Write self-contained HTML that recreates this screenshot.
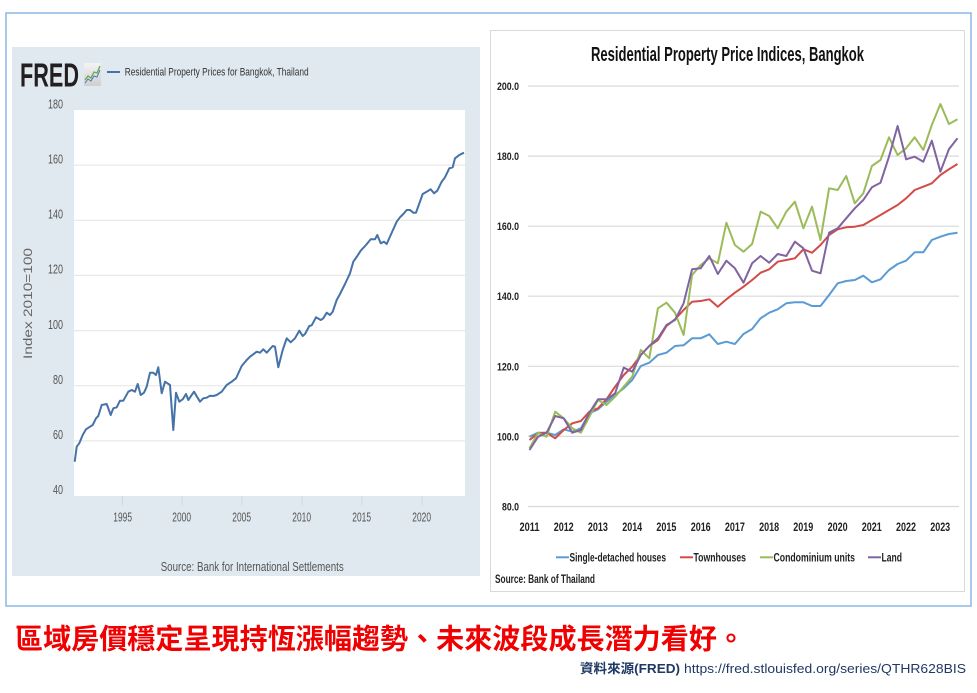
<!DOCTYPE html>
<html>
<head>
<meta charset="utf-8">
<style>
html,body{margin:0;padding:0;background:#fff;width:977px;height:693px;overflow:hidden}
svg{display:block}
</style>
</head>
<body>
<svg width="977" height="693" viewBox="0 0 977 693" xmlns="http://www.w3.org/2000/svg">
<rect x="0" y="0" width="977" height="693" fill="#fff"/>
<!-- outer border -->
<rect x="6" y="13" width="965" height="593" fill="none" stroke="#8ab8e6" stroke-width="1.5"/>

<!-- ============ LEFT FRED PANEL ============ -->
<rect x="12" y="47" width="468" height="529" fill="#e1e9f0"/>
<rect x="74" y="110" width="391" height="386" fill="#fff"/>
<g stroke="#e8e8e8" stroke-width="1.2">
<line x1="74" y1="165.1" x2="465" y2="165.1"/>
<line x1="74" y1="220.3" x2="465" y2="220.3"/>
<line x1="74" y1="275.4" x2="465" y2="275.4"/>
<line x1="74" y1="330.6" x2="465" y2="330.6"/>
<line x1="74" y1="385.7" x2="465" y2="385.7"/>
<line x1="74" y1="440.9" x2="465" y2="440.9"/>
</g>
<g stroke="#ccd6eb" stroke-width="1">
<line x1="122.5" y1="496" x2="122.5" y2="505"/>
<line x1="182" y1="496" x2="182" y2="505"/>
<line x1="242" y1="496" x2="242" y2="505"/>
<line x1="302" y1="496" x2="302" y2="505"/>
<line x1="362" y1="496" x2="362" y2="505"/>
<line x1="422" y1="496" x2="422" y2="505"/>
</g>
<!-- FRED logo -->
<text x="20" y="86.5" font-family="Liberation Sans, sans-serif" font-weight="bold" font-size="33" fill="#231f20" textLength="59" lengthAdjust="spacingAndGlyphs">FRED</text>
<defs><linearGradient id="ig" x1="0" y1="0" x2="0" y2="1"><stop offset="0" stop-color="#f4f4f4"/><stop offset="1" stop-color="#cfcfcf"/></linearGradient></defs>
<rect x="84" y="63" width="17" height="23" fill="url(#ig)"/>
<polyline points="85,80 88,76 91,78 94,72 97,73 100,66" fill="none" stroke="#6aa84f" stroke-width="1.3"/>
<polyline points="85,83 88,79 91,81 94,76 97,77 100,70" fill="none" stroke="#4a7ab5" stroke-width="1"/>
<line x1="107" y1="72" x2="120" y2="72" stroke="#4572a7" stroke-width="2"/>
<text x="124.7" y="75.5" font-family="Liberation Sans, sans-serif" font-size="11" fill="#333" textLength="184" lengthAdjust="spacingAndGlyphs">Residential Property Prices for Bangkok, Thailand</text>
<!-- y labels -->
<g font-family="Liberation Sans, sans-serif" font-size="12.5" fill="#555">
<text x="48" y="108.3" textLength="15" lengthAdjust="spacingAndGlyphs">180</text>
<text x="48" y="163.3" textLength="15" lengthAdjust="spacingAndGlyphs">160</text>
<text x="48" y="218.5" textLength="15" lengthAdjust="spacingAndGlyphs">140</text>
<text x="48" y="273.6" textLength="15" lengthAdjust="spacingAndGlyphs">120</text>
<text x="48" y="328.8" textLength="15" lengthAdjust="spacingAndGlyphs">100</text>
<text x="53" y="383.9" textLength="10" lengthAdjust="spacingAndGlyphs">80</text>
<text x="53" y="439.1" textLength="10" lengthAdjust="spacingAndGlyphs">60</text>
<text x="53" y="494.2" textLength="10" lengthAdjust="spacingAndGlyphs">40</text>
</g>
<text transform="translate(32,303.5) rotate(-90)" text-anchor="middle" font-family="Liberation Sans, sans-serif" font-size="11.5" fill="#666" textLength="111" lengthAdjust="spacingAndGlyphs">Index 2010=100</text>
<!-- x labels -->
<g font-family="Liberation Sans, sans-serif" font-size="12.5" fill="#555">
<text x="113.3" y="521.5" textLength="18.7" lengthAdjust="spacingAndGlyphs">1995</text>
<text x="172.3" y="521.5" textLength="18.7" lengthAdjust="spacingAndGlyphs">2000</text>
<text x="232.3" y="521.5" textLength="18.7" lengthAdjust="spacingAndGlyphs">2005</text>
<text x="292.3" y="521.5" textLength="18.7" lengthAdjust="spacingAndGlyphs">2010</text>
<text x="352.3" y="521.5" textLength="18.7" lengthAdjust="spacingAndGlyphs">2015</text>
<text x="412.3" y="521.5" textLength="18.7" lengthAdjust="spacingAndGlyphs">2020</text>
</g>
<text x="160.7" y="571" font-family="Liberation Sans, sans-serif" font-size="13" fill="#555" textLength="183" lengthAdjust="spacingAndGlyphs">Source: Bank for International Settlements</text>
<!-- FRED series -->
<polyline fill="none" stroke="#4572a7" stroke-width="2" stroke-linejoin="round" points="74.7,461.7 76.7,446.7 79.3,443.3 82.7,435 86,429.3 90,426.7 92.7,425 96,418.3 98.3,416 101.7,405 106.7,404 110.7,415 113.3,408.3 116.7,407.3 120,400.7 123.3,400.7 128.3,391.7 131.7,390 135,391.7 137.7,384 140.7,395 144,392.7 146.7,386.7 150,372.7 153.3,372.7 156,375 158.3,367.3 161.7,393.3 165,381.7 170,385 173.3,430 176,392.7 179.3,401.7 182.7,399.3 186,394 188.3,400 194,391.7 200,401.7 203.3,398.3 206.7,397.7 210,395.7 213.3,396 216.7,395 221.7,391.7 226.7,385 231.7,381.7 236,378.3 241.7,366 246.7,360 250,356.7 256.7,351.7 260,352.7 263.3,349.3 266.7,352.7 272.7,346 275,346.7 278.3,367.3 282.7,350 286.7,338.3 290.7,342.3 295,338.3 299.3,330.7 302.7,336 305,334 309.3,326 311.7,325.3 316,317.3 320.7,320 323.3,318.3 326.7,312.7 330,315 332.7,311.7 336.7,300 340,294 345,284 350,273.3 353.3,261.7 357.3,256 360.7,250.7 366,245 370.7,239.3 375,239.3 377.3,235 380.7,243.3 384,241.7 386.7,244 390.7,235 396.7,221.7 400,217.3 403.3,214 406.7,210 410,210 413.3,212.7 416,212.7 422.7,194 426.7,191.7 430.7,189.3 434,193.3 437.3,190.7 441.7,181.7 445,177.3 449.3,168.3 452.7,167.3 455,158.3 459.3,155 464,152.7"/>

<!-- ============ RIGHT PANEL ============ -->
<rect x="490.5" y="30.5" width="474" height="561" fill="#fff" stroke="#d9d9d9" stroke-width="1"/>
<text x="591" y="61" font-family="Liberation Sans, sans-serif" font-weight="bold" font-size="20" fill="#111" textLength="273" lengthAdjust="spacingAndGlyphs">Residential Property Price Indices, Bangkok</text>
<g stroke="#d9d9d9" stroke-width="1.2">
<line x1="528" y1="86" x2="959" y2="86"/>
<line x1="528" y1="156.1" x2="959" y2="156.1"/>
<line x1="528" y1="226.2" x2="959" y2="226.2"/>
<line x1="528" y1="296.2" x2="959" y2="296.2"/>
<line x1="528" y1="366.3" x2="959" y2="366.3"/>
<line x1="528" y1="436.4" x2="959" y2="436.4"/>
<line x1="528" y1="506.5" x2="959" y2="506.5"/>
</g>
<g font-family="Liberation Sans, sans-serif" font-weight="bold" font-size="11" fill="#222">
<text x="497" y="90" textLength="22" lengthAdjust="spacingAndGlyphs">200.0</text>
<text x="497" y="160.1" textLength="22" lengthAdjust="spacingAndGlyphs">180.0</text>
<text x="497" y="230.2" textLength="22" lengthAdjust="spacingAndGlyphs">160.0</text>
<text x="497" y="300.2" textLength="22" lengthAdjust="spacingAndGlyphs">140.0</text>
<text x="497" y="370.3" textLength="22" lengthAdjust="spacingAndGlyphs">120.0</text>
<text x="497" y="440.4" textLength="22" lengthAdjust="spacingAndGlyphs">100.0</text>
<text x="502" y="510.5" textLength="17" lengthAdjust="spacingAndGlyphs">80.0</text>
</g>
<g font-family="Liberation Sans, sans-serif" font-weight="bold" font-size="12" fill="#222">
<text x="519.5" y="531" textLength="20" lengthAdjust="spacingAndGlyphs">2011</text>
<text x="553.7" y="531" textLength="20" lengthAdjust="spacingAndGlyphs">2012</text>
<text x="587.9" y="531" textLength="20" lengthAdjust="spacingAndGlyphs">2013</text>
<text x="622.2" y="531" textLength="20" lengthAdjust="spacingAndGlyphs">2014</text>
<text x="656.4" y="531" textLength="20" lengthAdjust="spacingAndGlyphs">2015</text>
<text x="690.7" y="531" textLength="20" lengthAdjust="spacingAndGlyphs">2016</text>
<text x="724.9" y="531" textLength="20" lengthAdjust="spacingAndGlyphs">2017</text>
<text x="759.1" y="531" textLength="20" lengthAdjust="spacingAndGlyphs">2018</text>
<text x="793.3" y="531" textLength="20" lengthAdjust="spacingAndGlyphs">2019</text>
<text x="827.6" y="531" textLength="20" lengthAdjust="spacingAndGlyphs">2020</text>
<text x="861.8" y="531" textLength="20" lengthAdjust="spacingAndGlyphs">2021</text>
<text x="896" y="531" textLength="20" lengthAdjust="spacingAndGlyphs">2022</text>
<text x="930.2" y="531" textLength="20" lengthAdjust="spacingAndGlyphs">2023</text>
</g>
<g fill="none" stroke-width="2" stroke-linejoin="round">
<polyline stroke="#5b9bd5" points="529.5,436.7 538.1,432.7 546.6,432.7 555.2,435 563.7,429.3 572.3,431.7 580.9,428.3 589.4,413.3 598,409.3 606.5,401.7 615.1,395 623.7,388.3 632.2,380 640.8,366 649.3,362.7 657.9,355 666.5,352.7 675,346 683.6,345.3 692.1,338.3 700.7,338.3 709.3,334.3 717.8,344 726.4,341.7 734.9,344 743.5,334 752.1,329 760.6,318.3 769.2,312.7 777.7,309.3 786.3,303.3 794.9,302.3 803.4,302.3 812,306 820.5,306 829.1,295 837.7,283.3 846.2,281 854.8,280 863.3,275.7 871.9,282.3 880.5,279.3 889,270 897.6,264 906.1,260.7 914.7,252.3 923.3,252.3 931.8,240 940.4,236.7 948.9,234 957.5,232.7"/>
<polyline stroke="#d24b47" points="529.5,440 538.1,433.3 546.6,432.7 555.2,438.3 563.7,430 572.3,423.3 580.9,421 589.4,411.7 598,408.3 606.5,399.3 615.1,386.7 623.7,375 632.2,366.7 640.8,355 649.3,346 657.9,340 666.5,326 675,319.3 683.6,310 692.1,301.7 700.7,301 709.3,299.3 717.8,306.7 726.4,299.3 734.9,292.7 743.5,286.7 752.1,280 760.6,272.7 769.2,269.3 777.7,261.7 786.3,260 794.9,258.3 803.4,249.3 812,252.7 820.5,245 829.1,235 837.7,229.3 846.2,227.3 854.8,226.7 863.3,225 871.9,220 880.5,215 889,210 897.6,205 906.1,198.3 914.7,190 923.3,186.7 931.8,183.3 940.4,175 948.9,169.3 957.5,164"/>
<polyline stroke="#9bbb59" points="529.5,448.3 538.1,432.7 546.6,436.7 555.2,411.7 563.7,418.3 572.3,428.3 580.9,432.7 589.4,416.7 598,400 606.5,405 615.1,396.7 623.7,386.7 632.2,376.7 640.8,350 649.3,358.3 657.9,308.3 666.5,302.7 675,312.7 683.6,335 692.1,275 700.7,265 709.3,258.3 717.8,263.3 726.4,222.7 734.9,245 743.5,251.7 752.1,244 760.6,211.7 769.2,216 777.7,228.3 786.3,211.7 794.9,201.7 803.4,228.3 812,206.7 820.5,240 829.1,188.3 837.7,190 846.2,176 854.8,203.3 863.3,193.3 871.9,166 880.5,160 889,137.3 897.6,155 906.1,148.3 914.7,137.3 923.3,150 931.8,125 940.4,104 948.9,124 957.5,119.3"/>
<polyline stroke="#8064a2" points="529.5,450 538.1,436.7 546.6,432.7 555.2,416 563.7,418.3 572.3,432.7 580.9,430 589.4,412.7 598,399.3 606.5,399.3 615.1,393.3 623.7,367.7 632.2,371.7 640.8,355 649.3,346 657.9,338.3 666.5,325 675,320 683.6,303.3 692.1,269.3 700.7,268.3 709.3,256 717.8,274 726.4,260.7 734.9,268.3 743.5,282.7 752.1,263.3 760.6,256 769.2,262.7 777.7,254 786.3,256 794.9,241.7 803.4,248.3 812,270.7 820.5,273.3 829.1,232.7 837.7,228.3 846.2,218.3 854.8,208.3 863.3,200 871.9,187.3 880.5,182.7 889,156.7 897.6,126 906.1,159.3 914.7,156.7 923.3,161.7 931.8,140.7 940.4,171.7 948.9,149.3 957.5,138.3"/>
</g>
<!-- legend -->
<g stroke-width="2">
<line x1="556" y1="557.3" x2="569" y2="557.3" stroke="#5b9bd5"/>
<line x1="680" y1="557.3" x2="693" y2="557.3" stroke="#d24b47"/>
<line x1="760" y1="557.3" x2="773" y2="557.3" stroke="#9bbb59"/>
<line x1="868" y1="557.3" x2="881" y2="557.3" stroke="#8064a2"/>
</g>
<g font-family="Liberation Sans, sans-serif" font-weight="bold" font-size="11.5" fill="#222">
<text x="569.5" y="561.5" textLength="96.5" lengthAdjust="spacingAndGlyphs">Single-detached houses</text>
<text x="693.5" y="561.5" textLength="52.5" lengthAdjust="spacingAndGlyphs">Townhouses</text>
<text x="773.5" y="561.5" textLength="81.5" lengthAdjust="spacingAndGlyphs">Condominium units</text>
<text x="881.5" y="561.5" textLength="20.5" lengthAdjust="spacingAndGlyphs">Land</text>
<text x="495" y="583" textLength="100" lengthAdjust="spacingAndGlyphs">Source: Bank of Thailand</text>
</g>

<!-- ============ CAPTION ============ -->
<text x="15" y="648.5" font-family="Liberation Sans, 'Noto Sans CJK TC', 'Noto Sans CJK SC', sans-serif" font-weight="bold" font-size="28" fill="#f00000" textLength="730" lengthAdjust="spacingAndGlyphs">區域房價穩定呈現持恆漲幅趨勢、未來波段成長潛力看好。</text>
<text x="580" y="673" font-family="Liberation Sans, 'Noto Sans CJK TC', sans-serif" font-weight="bold" font-size="13" fill="#1f3864" textLength="100" lengthAdjust="spacingAndGlyphs">資料來源(FRED)</text>
<text x="684" y="673" font-family="Liberation Sans, sans-serif" font-size="13" fill="#1f3864" textLength="282" lengthAdjust="spacingAndGlyphs">https://fred.stlouisfed.org/series/QTHR628BIS</text>
</svg>
</body>
</html>
